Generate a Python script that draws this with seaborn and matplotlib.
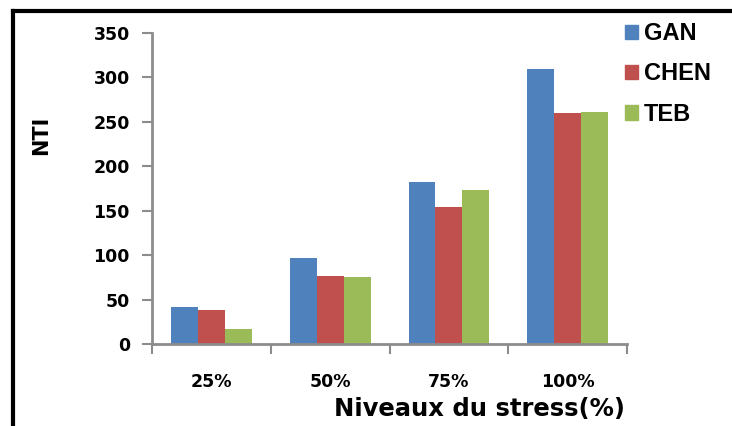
import matplotlib
matplotlib.use("Agg")
import matplotlib.pyplot as plt
from matplotlib.lines import Line2D
import seaborn as sns
import pandas as pd

# Stress levels and NTI per method
levels = ["25%", "50%", "75%", "100%"]
gan = [42, 97, 182, 309]
chen = [38, 76, 154, 260]
teb = [17, 75, 173, 261]
methods = ["GAN", "CHEN", "TEB"]
colors = ["#4F81BD", "#C0504D", "#9BBB59"]

df = pd.DataFrame({
    "level": levels * 3,
    "method": [m for m in methods for _ in levels],
    "nti": gan + chen + teb,
})

sns.set_theme(style="white")
plt.rcParams["font.family"] = ["DejaVu Sans"]
plt.rcParams["text.color"] = "black"
plt.rcParams["xtick.color"] = "black"
plt.rcParams["ytick.color"] = "black"

fig = plt.figure(figsize=(7.32, 4.26), dpi=100)
ax = fig.add_axes([152 / 732, 1 - 344 / 426, (627 - 152) / 732, (344 - 33) / 426])

sns.barplot(data=df, x="level", y="nti", hue="method", order=levels,
            hue_order=methods, palette=colors, width=0.68, saturation=1,
            edgecolor="none", linewidth=0, ax=ax)

ax.set_xlim(-0.5, 3.5)
ax.set_ylim(0, 350)
ax.set_yticks(range(0, 351, 50))
ax.set_xlabel("")
ax.set_ylabel("")

axis_grey = "#8c8c8c"
for side in ["top", "right"]:
    ax.spines[side].set_visible(False)
for side in ["left", "bottom"]:
    ax.spines[side].set_color(axis_grey)
    ax.spines[side].set_linewidth(2)

# y ticks: outward grey marks with bold labels
ax.tick_params(axis="y", which="major", left=True, direction="out", length=7,
               width=1.5, color=axis_grey, labelcolor="black", pad=9,
               labelsize=12.5)
for t in ax.get_yticklabels():
    t.set_fontweight("bold")

# x ticks: marks at category boundaries, labels at centres
ax.set_xticks([-0.5, 0.5, 1.5, 2.5, 3.5], minor=True)
ax.tick_params(axis="x", which="minor", bottom=True, direction="out",
               length=7, width=1.5, color=axis_grey)
ax.tick_params(axis="x", which="major", bottom=True, length=0, pad=21,
               labelsize=12.5, labelcolor="black")
for t in ax.get_xticklabels():
    t.set_fontweight("bold")

fig.text(480 / 732, 1 - 409 / 426, "Niveaux du stress(%)", ha="center",
         va="center", fontsize=17.5, fontweight="bold", color="black")
fig.text(41 / 732, 1 - 135 / 426, "NTI", ha="center", va="center",
         rotation=90, fontsize=15, fontweight="bold", color="black")

# legend at the upper right, outside the plotting area
handles = [plt.Rectangle((0, 0), 1, 1, color=c) for c in colors]
ax.get_legend().remove()
fig.legend(handles, methods, loc="upper left",
           bbox_to_anchor=(625 / 732, 1 - 22 / 426), frameon=False,
           prop={"family": "Liberation Sans", "weight": "bold", "size": 17},
           labelcolor="black",
           handlelength=0.55, handleheight=0.55, handletextpad=0.25,
           labelspacing=0.74, borderaxespad=0, borderpad=0)

# black frame lines on the left and top edges
fig.add_artist(Line2D([13 / 732, 13 / 732], [0, 1 - 11 / 426],
                      transform=fig.transFigure, color="black", linewidth=3,
                      solid_capstyle="projecting"))
fig.add_artist(Line2D([13 / 732, 1], [1 - 11 / 426, 1 - 11 / 426],
                      transform=fig.transFigure, color="black", linewidth=3,
                      solid_capstyle="projecting"))

fig.savefig("out.png", dpi=100)
